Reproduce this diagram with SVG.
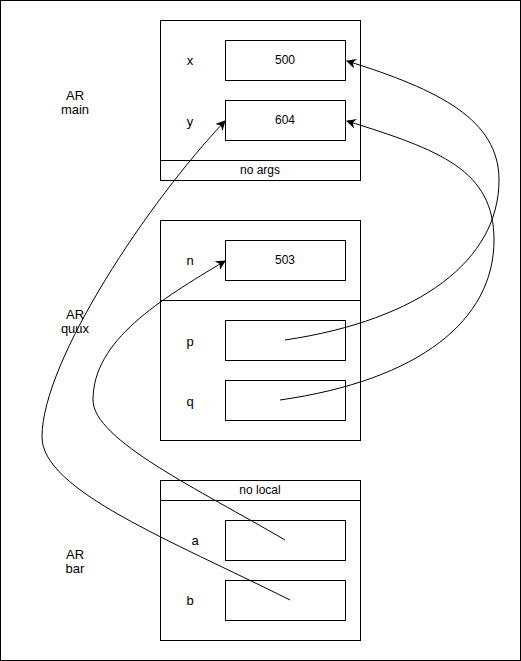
<svg xmlns="http://www.w3.org/2000/svg" width="521" height="661" viewBox="0 0 521 661">
<defs>
<style>
.frame{fill:#fff;stroke:#000;stroke-width:1}
.box{fill:#fff;stroke:#000;stroke-width:1}
.lbl{font-family:"Liberation Sans",Arial,sans-serif;font-size:13px;fill:#000;text-anchor:middle}
.val{font-family:"Liberation Sans",Arial,sans-serif;font-size:12px;fill:#000;text-anchor:middle}
.conn{fill:none;stroke:#000;stroke-width:1}
</style>
<marker id="arr" viewBox="0 0 10 10" refX="9" refY="5" markerWidth="10" markerHeight="10" markerUnits="userSpaceOnUse" orient="auto">
<path d="M0,0 L10,5 L0,10 L3,5 Z" fill="#000"/>
</marker>
</defs>
<rect x="0.5" y="0.5" width="520" height="660" fill="#fff" stroke="#000"/>
<g id="ar-main">
<rect class="frame" x="160.5" y="20.5" width="200" height="160"/>
<line x1="160.5" y1="160.5" x2="360.5" y2="160.5" stroke="#000"/>
<text class="val" x="260" y="174">no args</text>
<text class="lbl" x="190" y="65">x</text>
<text class="lbl" x="190" y="126">y</text>
<text class="lbl" x="75" y="100">AR</text>
<text class="lbl" x="75" y="114">main</text>
</g>
<g id="main-x"><rect class="box" x="225.5" y="40.5" width="120" height="40"/><text class="val" x="285" y="64">500</text></g>
<g id="main-y"><rect class="box" x="225.5" y="100.5" width="120" height="40"/><text class="val" x="285" y="124">604</text></g>
<g id="ar-quux">
<rect class="frame" x="160.5" y="220.5" width="200" height="220"/>
<line x1="160.5" y1="300.5" x2="360.5" y2="300.5" stroke="#000"/>
<text class="lbl" x="190" y="265">n</text>
<text class="lbl" x="190" y="346">p</text>
<text class="lbl" x="190" y="406">q</text>
<text class="lbl" x="75" y="319">AR</text>
<text class="lbl" x="75" y="333">quux</text>
</g>
<g id="quux-n"><rect class="box" x="225.5" y="240.5" width="120" height="40"/><text class="val" x="285" y="264">503</text></g>
<g id="quux-p"><rect class="box" x="225.5" y="320.5" width="120" height="40"/></g>
<g id="quux-q"><rect class="box" x="225.5" y="380.5" width="120" height="40"/></g>
<g id="ar-bar">
<rect class="frame" x="160.5" y="480.5" width="200" height="160"/>
<line x1="160.5" y1="500.5" x2="360.5" y2="500.5" stroke="#000"/>
<text class="val" x="260" y="494">no local</text>
<text class="lbl" x="195" y="545">a</text>
<text class="lbl" x="190" y="605">b</text>
<text class="lbl" x="75" y="559">AR</text>
<text class="lbl" x="75" y="573">bar</text>
</g>
<g id="bar-a"><rect class="box" x="225.5" y="520.5" width="120" height="40"/></g>
<g id="bar-b"><rect class="box" x="225.5" y="580.5" width="120" height="40"/></g>
<g id="connectors">
<path class="conn" marker-end="url(#arr)" d="M285,340 C420,320 499,260 499,180 C499,120 440,90 347,61"/>
<path class="conn" marker-end="url(#arr)" d="M280,400 C420,380 494,320 494,240 C494,170 440,150 347,121"/>
<path class="conn" marker-end="url(#arr)" d="M285,540 C200,490 93,440 93,400 C93,340 160,300 225,261"/>
<path class="conn" marker-end="url(#arr)" d="M290,600 C170,540 42,490 42,437 C42,360 150,200 225,121"/>
</g>
</svg>
